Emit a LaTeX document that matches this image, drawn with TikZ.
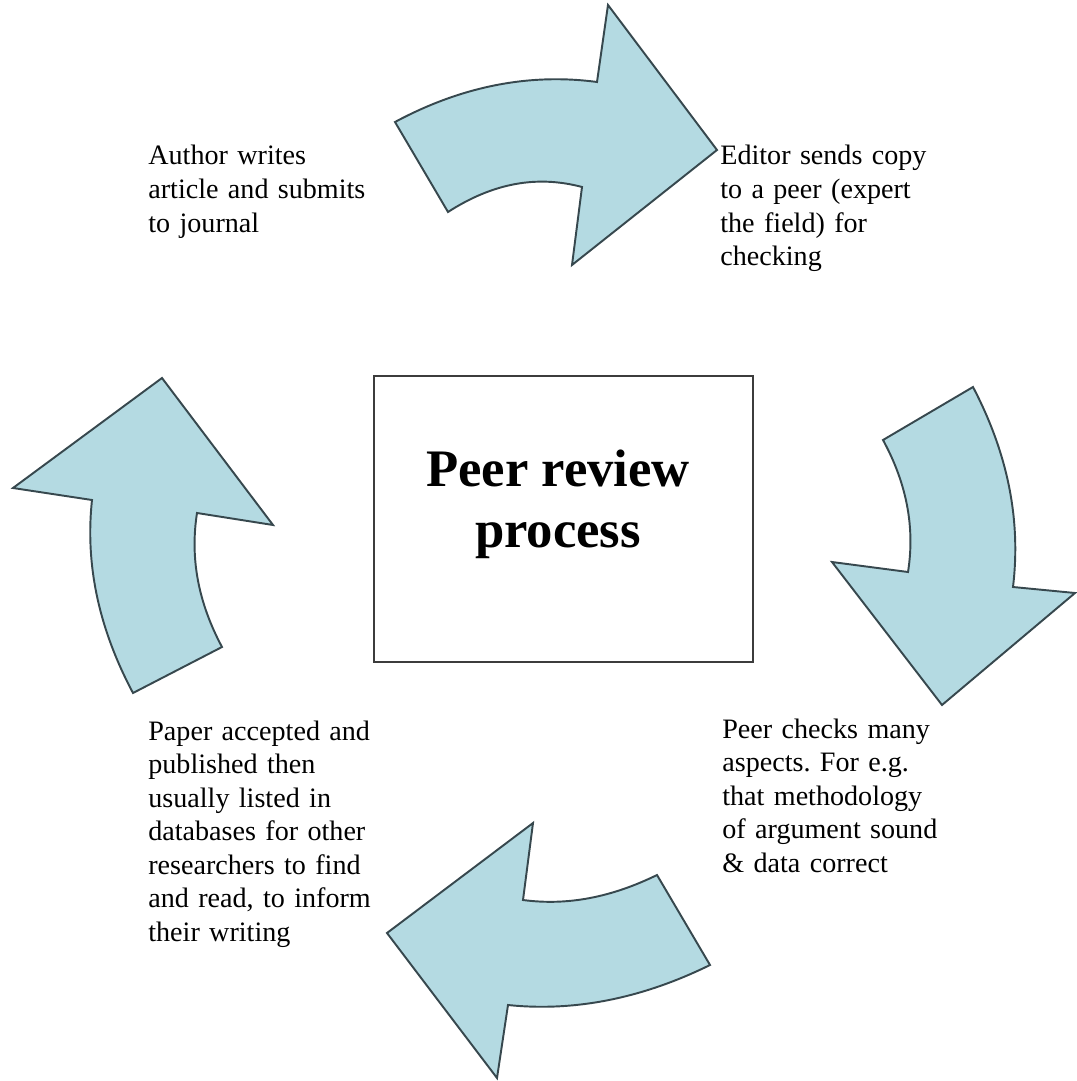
\documentclass[tikz,border=0pt]{standalone}
\usepackage{fontspec}
\setmainfont{Liberation Serif}
\usetikzlibrary{positioning}
\definecolor{arrowfill}{RGB}{180,218,226}
\definecolor{arrowline}{RGB}{55,72,78}
\definecolor{boxline}{RGB}{60,60,60}

\tikzset{
    cyclearrow/.style = {fill=arrowfill, draw=arrowline, line width=1.1pt, line join=miter},
    steptext/.style = {anchor=base west, inner sep=0pt, text width=5cm, align=left, font=\fontsize{16}{19.1}\selectfont\frenchspacing},
}

\begin{document}
\begin{tikzpicture}[x=0.02cm, y=-0.02cm]
                \useasboundingbox (0,0) rectangle (1076,1081);
                % the four bent arrows of the cycle
                \draw[cyclearrow] (597,82) .. controls (530,73) and (462,86) .. (395,122) -- (448,212) .. controls (493,183) and (537,175) .. (582,187) -- (572,265) -- (717,150) -- (608,5) -- cycle;
                \draw[cyclearrow] (908,572) .. controls (915,528) and (907,484) .. (883,440) -- (973,387) .. controls (1008,454) and (1021,520) .. (1013,587) -- (1075,593) -- (942,705) -- (832,562) -- cycle;
                \draw[cyclearrow] (523,900) .. controls (568,906) and (612,897) .. (657,875) -- (710,965) .. controls (643,998) and (575,1012) .. (508,1005) -- (497,1078) -- (387,933) -- (533,823) -- cycle;
                \draw[cyclearrow] (197,513) .. controls (190,558) and (198,602) .. (222,647) -- (133,693) .. controls (99,629) and (85,565) .. (92,500) -- (13,488) -- (162,378) -- (273,525) -- cycle;
                % centre box
                \node[draw=boxline, line width=1.4pt, minimum width=7.58cm, minimum height=5.72cm, inner sep=0pt] (hub) at (563.5,519) {};
                \node[inner sep=0pt, align=center, font=\fontsize{30}{34.6}\selectfont\bfseries] (title) at (558,504) {Peer review\\ process};
                % the steps
                \node[steptext] (author) at (148,165) {Author writes\\ article and submits\\ to journal};
                \node[steptext] (editor) at (720,165) {Editor sends copy\\ to a peer (expert\\ the field) for\\ checking};
                \node[steptext] (peer) at (722,738) {Peer checks many\\ aspects. For e.g.\\ that methodology\\ of argument sound\\ \& data correct};
                \node[steptext] (paper) at (148,740) {Paper accepted and\\ published then\\ usually listed in\\ databases for other\\ researchers to find\\ and read, to inform\\ their writing};
\end{tikzpicture}
\end{document}
